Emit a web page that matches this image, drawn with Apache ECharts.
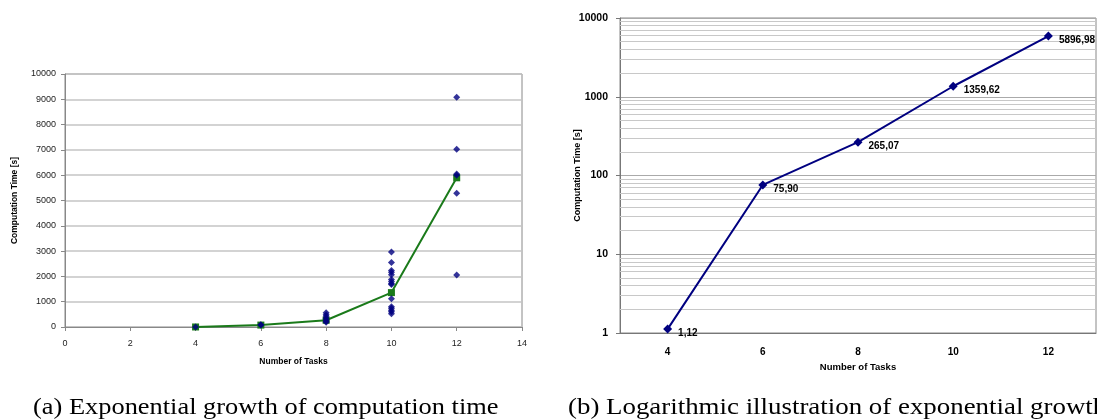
<!DOCTYPE html>
<html><head><meta charset="utf-8">
<script src="https://cdn.jsdelivr.net/npm/echarts@6/dist/echarts.min.js"></script>
<style>html,body{margin:0;padding:0;background:#fff}#c{width:1097px;height:420px}</style>
</head><body><div id="c"></div>
<script>
// ---- data ----
const taskCounts = [4, 6, 8, 10, 12];
const meanTimes = [1.12, 75.90, 265.07, 1359.62, 5896.98];
const runs4 = [1];
const runs6 = [78, 90];
const runs8 = [560, 480, 420, 350, 280, 230, 190];
const runs10 = [2960, 2550, 2230, 2160, 2070, 1880, 1800, 1720, 1680, 1120, 800, 740, 660, 600, 520];
const runs12 = [9080, 7030, 6050, 6000, 5290, 2060];
const linYTicks = [0, 10000, 1000];          // min, max, interval
const linXTicks = [0, 14, 2];
const logMinorGrid = [2,3,4,5,6,7,8,9,20,30,40,50,60,70,80,90,200,300,400,500,600,700,800,900,2000,3000,4000,5000,6000,7000,8000,9000];
const captionA = '(a) Exponential growth of computation time';
const captionB = '(b) Logarithmic illustration of exponential growth';

const scatterData = [];
[[4, runs4], [6, runs6], [8, runs8], [10, runs10], [12, runs12]].forEach(([x, arr]) => arr.forEach(v => scatterData.push([x, v])));
const meanPairs = taskCounts.map((x, i) => [x, meanTimes[i]]);

const SANS = 'Liberation Sans';
const plain = v => String(v);
const capStyle = {fontFamily: 'Liberation Serif', fontSize: 24, fill: '#000', verticalAlign: 'middle', align: 'left'};
const chart = echarts.init(document.getElementById('c'), null, {renderer: 'canvas'});
chart.setOption({
  animation: false,
  backgroundColor: '#fff',
  graphic: [
    {type: 'text', x: 33, y: 408, scaleX: 1.1, style: Object.assign({text: captionA}, capStyle)},
    {type: 'text', x: 568, y: 408, scaleX: 1.12, style: Object.assign({text: captionB}, capStyle)}
  ],
  grid: [
    {left: 65, top: 74, width: 457, height: 253, show: true, borderColor: '#888', borderWidth: 1, backgroundColor: 'transparent'},
    {left: 620, top: 18, width: 476, height: 315, show: true, borderColor: '#888', borderWidth: 1, backgroundColor: 'transparent'}
  ],
  xAxis: [
    {gridIndex: 0, type: 'value', min: linXTicks[0], max: linXTicks[1], interval: linXTicks[2],
     name: 'Number of Tasks', nameLocation: 'middle', nameGap: 30,
     nameTextStyle: {fontFamily: SANS, fontSize: 8.5, fontWeight: 'bold', color: '#000'},
     axisLine: {lineStyle: {color: '#888'}}, axisTick: {length: 4, lineStyle: {color: '#888'}},
     axisLabel: {margin: 12, fontFamily: SANS, fontSize: 9, color: '#222', formatter: plain}, splitLine: {show: false}},
    {gridIndex: 1, type: 'category', data: taskCounts.map(String), boundaryGap: true,
     name: 'Number of Tasks', nameLocation: 'middle', nameGap: 27,
     nameTextStyle: {fontFamily: SANS, fontSize: 9.5, fontWeight: 'bold', color: '#000'},
     axisLine: {lineStyle: {color: '#777'}}, axisTick: {length: 4, lineStyle: {color: '#777'}},
     axisLabel: {margin: 14, fontFamily: SANS, fontSize: 10, fontWeight: 'bold', color: '#000'}, splitLine: {show: false}}
  ],
  yAxis: [
    {gridIndex: 0, type: 'value', min: linYTicks[0], max: linYTicks[1], interval: linYTicks[2],
     name: 'Computation Time [s]', nameLocation: 'middle', nameGap: 46, nameMoveOverlap: false,
     nameTextStyle: {fontFamily: SANS, fontSize: 8.5, fontWeight: 'bold', color: '#000'},
     axisLine: {show: true, lineStyle: {color: '#888'}}, axisTick: {show: true, length: 4, lineStyle: {color: '#888'}},
     axisLabel: {margin: 9, fontFamily: SANS, fontSize: 9, color: '#222', formatter: plain},
     splitLine: {show: true, lineStyle: {color: '#c4c4c4', width: 1.5}}},
    {gridIndex: 1, type: 'log', logBase: 10, min: 1, max: 10000,
     name: 'Computation Time [s]', nameLocation: 'middle', nameGap: 38, nameMoveOverlap: false,
     nameTextStyle: {fontFamily: SANS, fontSize: 9, fontWeight: 'bold', color: '#000'},
     axisLine: {show: true, lineStyle: {color: '#777'}}, axisTick: {show: true, length: 4, lineStyle: {color: '#777'}},
     axisLabel: {margin: 12, fontFamily: SANS, fontSize: 10.5, fontWeight: 'bold', color: '#000', formatter: plain},
     splitLine: {show: true, lineStyle: {color: '#aaa', width: 1}}}
  ],
  series: [
    {type: 'line', xAxisIndex: 0, yAxisIndex: 0, data: meanPairs, symbol: 'rect', symbolSize: 7,
     itemStyle: {color: '#1a7a1a'}, lineStyle: {color: '#1a7a1a', width: 2}, z: 3},
    {type: 'scatter', xAxisIndex: 0, yAxisIndex: 0, data: scatterData, symbol: 'diamond', symbolSize: 7,
     itemStyle: {color: '#000080'}, z: 4},
    {type: 'line', xAxisIndex: 1, yAxisIndex: 1, data: [], symbol: 'none', z: 1, silent: true,
     markLine: {silent: true, z: 1, symbol: 'none', label: {show: false}, animation: false,
       lineStyle: {color: '#c8c8c8', width: 1, type: 'solid'},
       data: logMinorGrid.map(v => ({yAxis: v}))}},
    {type: 'line', xAxisIndex: 1, yAxisIndex: 1, data: meanTimes, symbol: 'diamond', symbolSize: 9,
     itemStyle: {color: '#000080'}, lineStyle: {color: '#000080', width: 2}, z: 5,
     label: {show: true, position: 'right', distance: 6, offset: [0, 4], fontFamily: SANS, fontSize: 10, fontWeight: 'bold', color: '#000',
       formatter: p => p.value.toFixed(2).replace('.', ',')}}
  ]
});
</script></body></html>
